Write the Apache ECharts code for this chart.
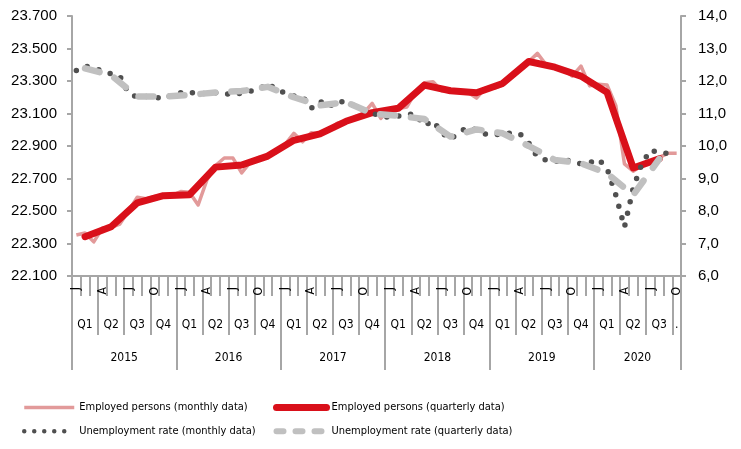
<!DOCTYPE html>
<html>
<head>
<meta charset="utf-8">
<script src="https://cdn.jsdelivr.net/npm/echarts@6/dist/echarts.min.js"></script>
<style>
html,body{margin:0;padding:0;background:#fff}
#chart{width:741px;height:449px}
</style>
</head>
<body>
<div id="chart"></div>
<script>
var years = ['2015', '2016', '2017', '2018', '2019', '2020'];
var monthLetters = ['J', 'F', 'M', 'A', 'M', 'J', 'J', 'A', 'S', 'O', 'N', 'D'];
var monthsIn2020 = 10;
var quarterNames = ['Q1', 'Q2', 'Q3', 'Q4', 'Q1', 'Q2', 'Q3', 'Q4', 'Q1', 'Q2', 'Q3', 'Q4',
    'Q1', 'Q2', 'Q3', 'Q4', 'Q1', 'Q2', 'Q3', 'Q4', 'Q1', 'Q2', 'Q3', '.'];

// employed persons, thousands (left axis)
var empMonthly = [
    22352, 22365, 22310, 22395, 22400, 22420, 22500, 22585, 22575, 22590, 22600, 22595,
    22620, 22615, 22537, 22690, 22780, 22826, 22826, 22734, 22800, 22830, 22840, 22860,
    22910, 22978, 22926, 22982, 22975, 23000, 23040, 23055, 23080, 23100, 23163, 23070,
    23125, 23130, 23140, 23235, 23290, 23295, 23240, 23240, 23240, 23230, 23195, 23255,
    23255, 23275, 23320, 23378, 23420, 23470, 23400, 23385, 23370, 23330, 23392, 23270,
    23280, 23275, 23150, 22790, 22745, 22780, 22800, 22830, 22855, 22855
];
var empQuarterly = [22342, 22403, 22550, 22594, 22600, 22770, 22783, 22838, 22935, 22975, 23052, 23105,
    23132, 23275, 23240, 23228, 23285, 23420, 23385, 23330, 23230, 22765, 22822];

// unemployment rate, % (right axis)
var unempMonthly = [
    12.32, 12.46, 12.39, 12.32, 12.22, 12.15, 11.62, 11.50, 11.52, 11.52, 11.44, 11.57,
    11.64, 11.67, 11.57, 11.64, 11.64, 11.62, 11.57, 11.63, 11.69, 11.75, 11.93, 11.74,
    11.63, 11.54, 11.52, 11.16, 11.38, 11.20, 11.38, 11.35, 11.23, 11.10, 11.02, 10.90,
    10.89, 10.92, 10.98, 10.98, 10.62, 10.78, 10.41, 10.20, 10.43, 10.58, 10.49, 10.37,
    10.34, 10.37, 10.40, 10.37, 10.09, 9.66, 9.57, 9.51, 9.60, 9.51, 9.45, 9.48,
    9.60, 9.31, 8.50, 7.50, 8.70, 9.45, 9.88, 9.78, 9.78, 9.78
];
var unempQuarterly = [12.39, 12.18, 11.52, 11.52, 11.57, 11.65, 11.69, 11.82, 11.50, 11.25, 11.35, 11.00,
    10.93, 10.83, 10.29, 10.51, 10.39, 10.00, 9.57, 9.47, 9.16, 8.49, 9.60];

var seriesNames = [
    'Employed persons (monthly data)',
    'Employed persons (quarterly data)',
    'Unemployment rate (monthly data)',
    'Unemployment rate (quarterly data)'
];

// month categories
var monthCats = [];
years.forEach(function (y, yi) {
    var n = yi === years.length - 1 ? monthsIn2020 : 12;
    for (var m = 0; m < n; m++) monthCats.push(y + '-' + (m + 1));
});

// label positions for the quarter and year rows
var quarterLabelAt = {};
quarterNames.forEach(function (q, i) {
    var start = 3 * i;
    var len = Math.min(3, monthCats.length - start);
    quarterLabelAt[start + Math.floor((len - 1) / 2)] = q;
});
var yearLabelAt = {};
years.forEach(function (y, i) {
    var start = 12 * i;
    var len = Math.min(12, monthCats.length - start);
    yearLabelAt[start + len / 2 - 1] = y; // shifted half a month right by padding
});

function spread(q) {
    var out = monthCats.map(function () { return null; });
    q.forEach(function (v, i) { out[3 * i + 1] = v; });
    return out;
}

// the original uses a condensed face; pick one that exists and size it to the legend width
var ctx = document.createElement('canvas').getContext('2d');
function textW(font, s) { ctx.font = font; return ctx.measureText(s).width; }
function hasFont(name) {
    var s = 'Employed persons 0123';
    return textW('20px monospace', s) !== textW("20px '" + name + "', monospace", s);
}
var narrowFace = ['Liberation Sans Narrow', 'Arial Narrow', 'DejaVu Sans Condensed'].filter(hasFont)[0] || 'Liberation Sans';
var narrow = "'" + narrowFace + "', sans-serif";
var narrowSize = Math.min(14, Math.round(10 * 160 / textW("10px " + narrow, seriesNames[0]) * 2) / 2);
var plain = "'Liberation Sans', Arial, sans-serif";

var grey = '#a6a6a6';
var bandW = (741 - 72 - 60) / monthCats.length;

function tick(len, interval) {
    return { show: true, interval: interval, length: len, lineStyle: { color: grey, width: 2 } };
}

var chart = echarts.init(document.getElementById('chart'));
chart.setOption({
    animation: false,
    grid: { left: 72, right: 60, top: 16, bottom: 173, containLabel: false, outerBoundsMode: 'none' },
    legend: [
        {
            left: 17, top: 396, orient: 'vertical', itemWidth: 50, itemHeight: 16, itemGap: 11,
            textStyle: { fontFamily: narrow, fontSize: narrowSize + 0.5, color: '#000' },
            lineStyle: { width: 'inherit' },
            itemStyle: { opacity: 0 },
            data: [
                { name: seriesNames[0] },
                { name: seriesNames[2], lineStyle: { type: [0, 10], width: 4.5 } }
            ]
        },
        {
            left: 268, top: 396, orient: 'vertical', itemWidth: 50, itemHeight: 16, itemGap: 11,
            textStyle: { fontFamily: narrow, fontSize: narrowSize + 0.5, color: '#000' },
            lineStyle: { width: 'inherit' },
            itemStyle: { opacity: 0 },
            data: [
                { name: seriesNames[1] },
                { name: seriesNames[3], lineStyle: { type: [7, 12], width: 6 } }
            ]
        }
    ],
    xAxis: [
        {
            type: 'category', position: 'bottom', data: monthCats, boundaryGap: true,
            axisLine: { lineStyle: { color: grey, width: 2 } },
            axisTick: tick(20, 0),
            axisLabel: {
                interval: function (i) { return i % 3 === 0; },
                rotate: 90, margin: 11, fontFamily: narrow, fontSize: narrowSize + 1.5, color: '#000',
                formatter: function (v, i) { return monthLetters[i % 12]; }
            }
        },
        {
            type: 'category', position: 'bottom', data: monthCats, boundaryGap: true,
            axisLine: { show: false },
            axisTick: tick(59, function (i) { return i % 3 === 0; }),
            axisLabel: {
                interval: function (i) { return quarterLabelAt[i] !== undefined; },
                margin: 43, fontFamily: narrow, fontSize: narrowSize + 1.5, color: '#000',
                formatter: function (v, i) { return quarterLabelAt[i]; }
            }
        },
        {
            type: 'category', position: 'bottom', data: monthCats, boundaryGap: true,
            axisLine: { show: false },
            axisTick: tick(94, function (i) { return i % 12 === 0; }),
            axisLabel: {
                interval: function (i) { return yearLabelAt[i] !== undefined; },
                margin: 76, fontFamily: narrow, fontSize: narrowSize + 1.5, color: '#000',
                padding: [0, 0, 0, bandW],
                formatter: function (v, i) { return yearLabelAt[i]; }
            }
        }
    ],
    yAxis: [
        {
            type: 'value', position: 'left', min: 22100, max: 23700, interval: 200,
            axisLine: { show: true, lineStyle: { color: grey, width: 2 } },
            axisTick: tick(5),
            splitLine: { show: false },
            axisLabel: {
                margin: 15, fontFamily: plain, fontSize: 15, color: '#000',
                formatter: function (v) { return String(v).replace(/\B(?=(\d{3})+(?!\d))/g, '.'); }
            }
        },
        {
            type: 'value', position: 'right', min: 6, max: 14, interval: 1,
            axisLine: { show: true, lineStyle: { color: grey, width: 2 } },
            axisTick: tick(5),
            splitLine: { show: false },
            axisLabel: {
                margin: 17, fontFamily: plain, fontSize: 15, color: '#000',
                formatter: function (v) { return v.toFixed(1).replace('.', ','); }
            }
        }
    ],
    series: [
        {
            name: seriesNames[0], type: 'line', xAxisIndex: 0, yAxisIndex: 0,
            data: empMonthly, symbol: 'none', z: 2,
            itemStyle: { color: '#e29a9a' },
            lineStyle: { color: '#e29a9a', width: 3.5, join: 'round' }
        },
        {
            name: seriesNames[1], type: 'line', xAxisIndex: 0, yAxisIndex: 0,
            data: spread(empQuarterly), connectNulls: true, symbol: 'none', z: 3,
            itemStyle: { color: '#d9101a' },
            lineStyle: { color: '#d9101a', width: 7, join: 'round', cap: 'round' }
        },
        {
            name: seriesNames[2], type: 'line', xAxisIndex: 0, yAxisIndex: 1,
            data: unempMonthly, symbol: 'none', z: 4,
            itemStyle: { color: '#505050' },
            lineStyle: { color: '#505050', width: 5.5, type: [0, 12], cap: 'round', join: 'round' }
        },
        {
            name: seriesNames[3], type: 'line', xAxisIndex: 0, yAxisIndex: 1,
            data: spread(unempQuarterly), connectNulls: true, symbol: 'none', z: 5,
            itemStyle: { color: '#c0c0c0' },
            lineStyle: { color: '#c0c0c0', width: 6.5, type: [15, 16], cap: 'round', join: 'round' }
        }
    ]
});
</script>
</body>
</html>
